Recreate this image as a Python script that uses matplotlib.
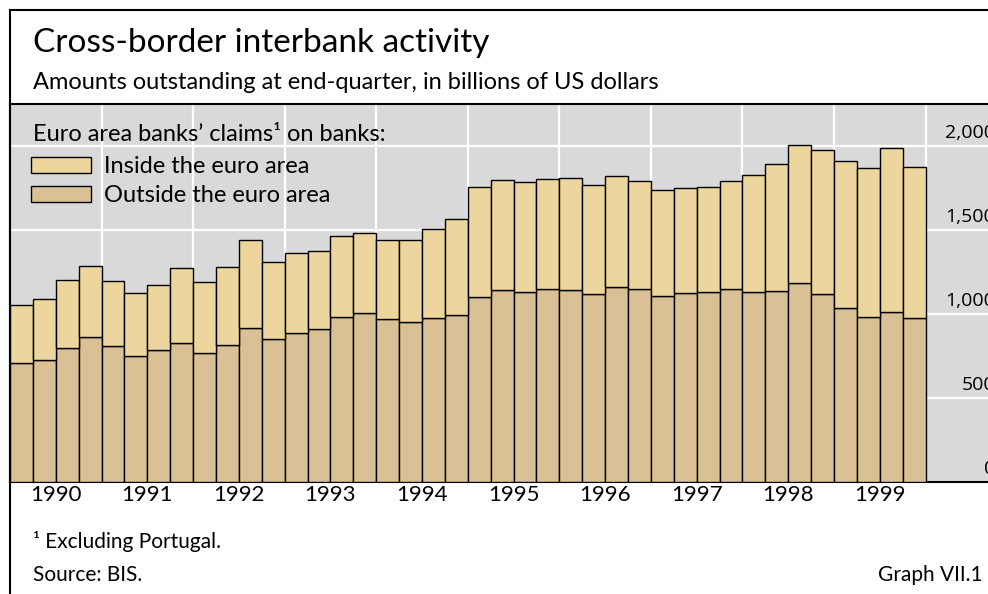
import matplotlib.pyplot as plt

plt.rcParams['font.family'] = ['Lato', 'DejaVu Sans']

# quarterly data, 1990 Q1 - 1999 Q4 (billions of US dollars)
years = [1990, 1991, 1992, 1993, 1994, 1995, 1996, 1997, 1998, 1999]
outside = [706, 726, 796, 863, 807, 752, 786, 825, 766, 815,
           915, 853, 885, 913, 980, 1004, 972, 952, 974, 996,
           1103, 1145, 1131, 1149, 1141, 1121, 1161, 1147, 1109, 1127,
           1133, 1151, 1131, 1137, 1185, 1119, 1038, 980, 1014, 978]
inside = [348, 361, 404, 425, 389, 375, 385, 451, 426, 465,
          523, 457, 476, 464, 482, 478, 470, 488, 532, 567,
          655, 651, 655, 655, 669, 649, 660, 647, 627, 621,
          621, 639, 696, 754, 819, 857, 875, 891, 972, 897]
yticks = [0, 500, 1000, 1500, 2000]

c_inside = '#EDD69D'
c_outside = '#DAC195'
c_bg = '#D9D9D9'

W, H = 988, 594
fig = plt.figure(figsize=(W / 100, H / 100), dpi=100)


def fx(px):
    return px / W


def fy(py):
    return 1 - py / H


# plot panel: x 10..988, y 104..482 (pixels)
ax = fig.add_axes([fx(10), fy(482), fx(988) - fx(10), fy(104) - fy(482)])
ax.set_facecolor(c_bg)

x = list(range(len(outside)))
b1 = ax.bar(x, outside, width=1, align='edge', color=c_outside,
            edgecolor='black', linewidth=1.0, zorder=3)
b2 = ax.bar(x, inside, width=1, align='edge', bottom=outside, color=c_inside,
            edgecolor='black', linewidth=1.0, zorder=3)

ax.set_xlim(0, 42.73)
ax.set_ylim(0, 2250)

ax.set_yticks(yticks)
ax.set_yticklabels([])
ax.tick_params(axis='y', length=0)
ax.set_xticks([4 * i + 2 for i in range(len(years))])
ax.set_xticklabels([str(y) for y in years], fontsize=16)
ax.set_xticks([4 * i for i in range(len(years) + 1)], minor=True)
ax.tick_params(axis='x', which='both', length=0, pad=2)

ax.grid(axis='y', color='white', linewidth=1.6, zorder=1)
ax.grid(axis='x', which='minor', color='white', linewidth=1.6, zorder=1)
ax.set_axisbelow(True)

ax.spines['right'].set_visible(False)
for s in ['top', 'bottom', 'left']:
    ax.spines[s].set_linewidth(1.5)

# value labels inside the panel, right side, sitting on the gridlines
for v in yticks:
    ax.annotate(f"{v:,}", xy=(1.0075, v), xycoords=('axes fraction', 'data'),
                xytext=(0, 6), textcoords='offset points',
                ha='right', va='baseline', fontsize=14,
                family=['Open Sans', 'DejaVu Sans'], annotation_clip=False)

# legend header and entries
fig.text(fx(33), fy(141), 'Euro area banks\u2019 claims\u00b9 on banks:',
         fontsize=17, va='baseline')
leg = ax.legend([b2, b1], ['Inside the euro area', 'Outside the euro area'],
                loc='upper left', bbox_to_anchor=(fx(31), fy(156)),
                bbox_transform=fig.transFigure, frameon=False,
                fontsize=17, handlelength=2.54, handleheight=0.64,
                handletextpad=0.55, labelspacing=0.36,
                borderpad=0, borderaxespad=0)

# outer frame
fig.add_artist(plt.Line2D([fx(10), fx(10)], [fy(10), fy(594)], color='black',
                          linewidth=1.5, transform=fig.transFigure))
fig.add_artist(plt.Line2D([fx(10), fx(988)], [fy(10), fy(10)], color='black',
                          linewidth=1.5, transform=fig.transFigure))

fig.text(fx(33), fy(52), 'Cross-border interbank activity', fontsize=24,
         va='baseline')
fig.text(fx(33), fy(89), 'Amounts outstanding at end-quarter, in billions of US dollars',
         fontsize=17, va='baseline')
fig.text(fx(33), fy(548), '\u00b9 Excluding Portugal.', fontsize=15, va='baseline')
fig.text(fx(33), fy(581), 'Source: BIS.', fontsize=15, va='baseline')
fig.text(fx(983), fy(581), 'Graph VII.1', fontsize=15, va='baseline', ha='right')

fig.savefig('out.png', dpi=100)
